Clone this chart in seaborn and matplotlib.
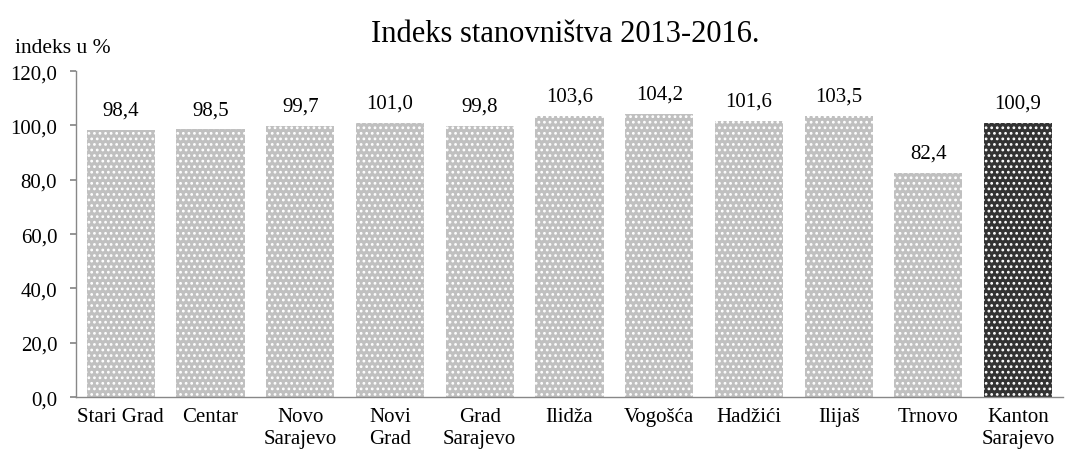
import matplotlib
matplotlib.use("Agg")
import matplotlib.pyplot as plt
import seaborn as sns
import pandas as pd

# data
categories = ["Stari Grad", "Centar", "Novo\nSarajevo", "Novi\nGrad", "Grad\nSarajevo",
              "Ilidža", "Vogošća", "Hadžići", "Ilijaš", "Trnovo", "Kanton\nSarajevo"]
values = [98.4, 98.5, 99.7, 101.0, 99.8, 103.6, 104.2, 101.6, 103.5, 82.4, 100.9]
y_ticks = [0, 20, 40, 60, 80, 100, 120]

sns.set_theme(style="white")
plt.rcParams['font.family'] = ['Liberation Serif', 'DejaVu Serif']
plt.rcParams['hatch.color'] = 'white'
plt.rcParams['hatch.linewidth'] = 1.2

df = pd.DataFrame({"opcina": categories, "indeks": values})
colors = ["#c0c0c0"] * 10 + ["#333333"]

fig = plt.figure(figsize=(10.67, 4.56), dpi=100)
ax = fig.add_axes([0.0712, 0.127, 0.925, 0.715])

sns.barplot(data=df, x="opcina", y="indeks", hue="opcina", palette=colors,
            legend=False, width=0.76, ax=ax, saturation=1)

for p in ax.patches:
    p.set_hatch("...")
    p.set_edgecolor("white")
    p.set_linewidth(0)

for i, v in enumerate(values):
    ax.text(i, v + 5.6, f"{v:.1f}".replace(".", ","), ha="center", va="baseline",
            fontsize=15, color="black")

ax.set_xlim(-0.5, 10.5)
ax.set_ylim(0, 120)
ax.set_yticks(y_ticks)
ax.set_yticklabels([f"{t:.1f}".replace(".", ",") for t in y_ticks], fontsize=15, color="black")
ax.tick_params(axis="y", length=4.5, color="#888888", left=True, pad=9)
ax.tick_params(axis="x", length=0, labelsize=15, labelcolor="black", pad=7)
ax.set_xlabel("")
ax.set_ylabel("")
for s in ["top", "right"]:
    ax.spines[s].set_visible(False)
for s in ["left", "bottom"]:
    ax.spines[s].set_color("#888888")
    ax.spines[s].set_linewidth(1)

fig.text(0.530, 0.908, "Indeks stanovništva 2013-2016.", ha="center", fontsize=22, color="black")
fig.text(0.014, 0.884, "indeks u %", ha="left", fontsize=15.5, color="black")

fig.savefig("out.png", dpi=100)
